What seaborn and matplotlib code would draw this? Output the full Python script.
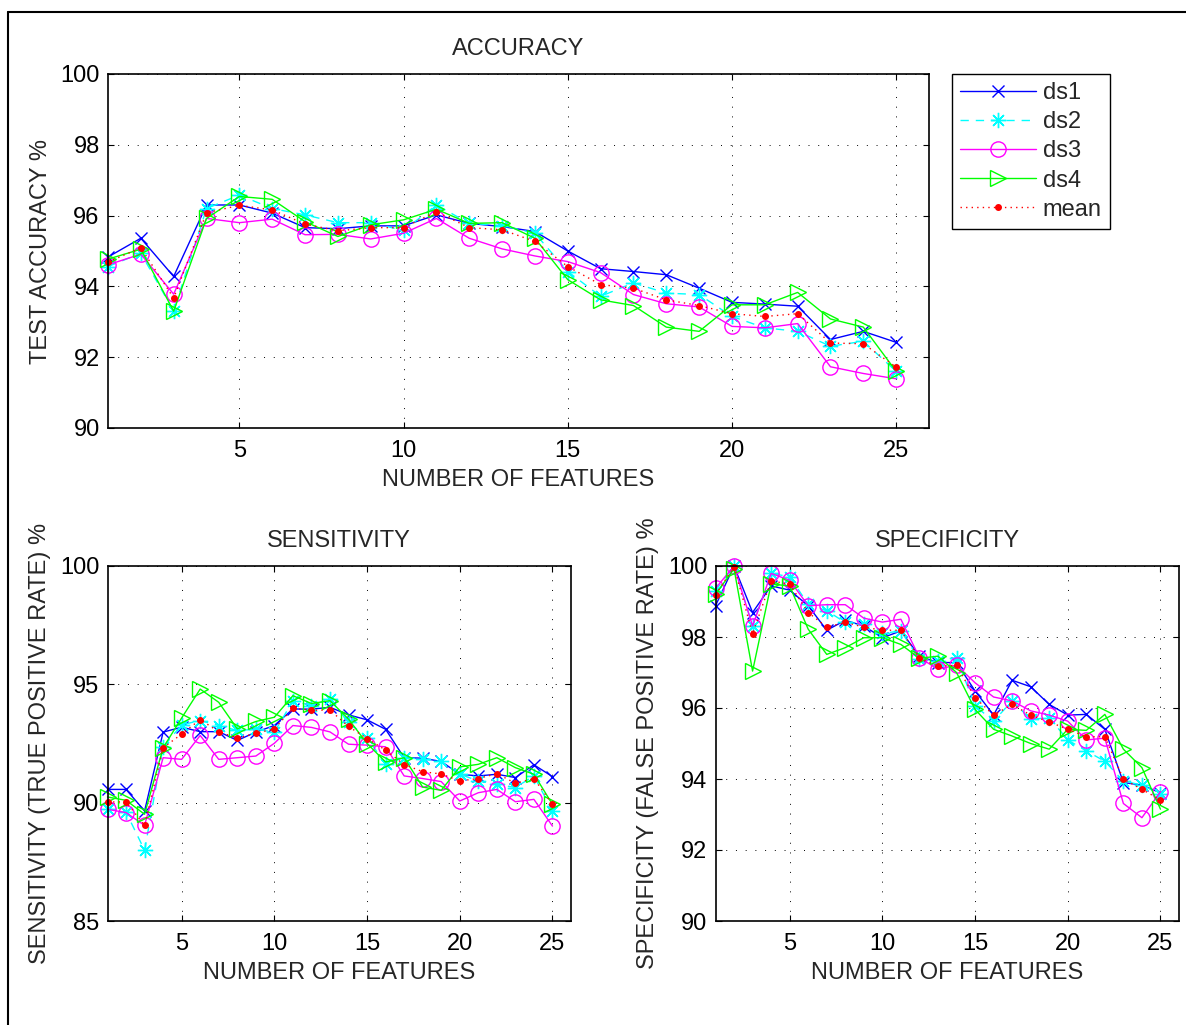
import numpy as np
import pandas as pd
import matplotlib
matplotlib.use("Agg")
import matplotlib.pyplot as plt
from matplotlib.lines import Line2D
import seaborn as sns

# ---- data -------------------------------------------------------------
features = list(range(1, 26))

acc_ds1 = [94.83, 95.36, 94.28, 96.30, 96.30, 96.07, 95.66, 95.63, 95.71, 95.71, 96.02, 95.78, 95.69,
           95.55, 95.00, 94.50, 94.42, 94.33, 93.95, 93.55, 93.50, 93.44, 92.50, 92.73, 92.42]
acc_ds2 = [94.56, 94.94, 93.30, 96.20, 96.58, 96.20, 96.02, 95.80, 95.80, 95.58, 96.30, 95.78, 95.72,
           95.50, 94.42, 93.72, 94.10, 93.81, 93.77, 93.15, 92.83, 92.73, 92.31, 92.45, 91.60]
acc_ds3 = [94.61, 94.91, 93.78, 95.92, 95.80, 95.90, 95.46, 95.47, 95.34, 95.50, 95.92, 95.36, 95.06,
           94.86, 94.70, 94.39, 93.77, 93.51, 93.42, 92.87, 92.83, 92.95, 91.73, 91.54, 91.39]
acc_ds4 = [94.77, 95.05, 93.30, 95.92, 96.54, 96.46, 95.83, 95.41, 95.74, 95.88, 96.18, 95.78, 95.80,
           95.36, 94.19, 93.62, 93.46, 92.85, 92.73, 93.48, 93.48, 93.83, 93.08, 92.85, 91.60]
acc_mean = [94.69, 95.09, 93.67, 96.08, 96.29, 96.16, 95.76, 95.57, 95.66, 95.66, 96.11, 95.66, 95.60,
            95.27, 94.56, 94.05, 93.95, 93.62, 93.46, 93.23, 93.15, 93.23, 92.40, 92.38, 91.72]

sens_ds1 = [90.56, 90.56, 89.65, 92.98, 93.19, 93.00, 93.00, 92.63, 92.98, 93.26, 93.96, 93.95, 94.03,
            93.71, 93.50, 93.10, 91.90, 91.88, 91.74, 91.20, 91.13, 91.20, 91.06, 91.60, 91.10]
sens_ds2 = [89.75, 89.60, 87.99, 92.35, 93.29, 93.47, 93.26, 93.05, 93.10, 92.98, 94.30, 94.10, 94.38,
            93.39, 92.75, 91.62, 91.90, 91.84, 91.74, 91.20, 90.92, 90.78, 90.64, 91.13, 89.65]
sens_ds3 = [89.72, 89.58, 89.04, 91.90, 91.83, 92.84, 91.83, 91.90, 91.97, 92.51, 93.26, 93.18, 92.99,
            92.47, 92.43, 92.36, 91.13, 91.02, 90.89, 90.07, 90.42, 90.56, 90.04, 90.14, 89.01]
sens_ds4 = [90.24, 90.10, 89.51, 92.32, 93.58, 94.80, 94.24, 93.12, 93.43, 93.61, 94.52, 94.19, 94.31,
            93.53, 92.50, 91.72, 91.90, 90.66, 90.52, 91.51, 91.62, 91.90, 91.48, 91.20, 89.93]
sens_mean = [90.03, 90.03, 89.04, 92.32, 92.90, 93.51, 93.00, 92.72, 92.93, 93.12, 93.99, 93.91, 93.91,
             93.22, 92.71, 92.22, 91.61, 91.31, 91.21, 90.92, 91.02, 91.23, 90.82, 91.02, 89.93]

spec_ds1 = [98.88, 100.0, 98.69, 99.44, 99.32, 98.88, 98.19, 98.47, 98.31, 97.98, 98.17, 97.46, 97.28,
            97.28, 96.48, 95.80, 96.78, 96.60, 96.10, 95.80, 95.82, 95.40, 93.90, 93.83, 93.61]
spec_ds2 = [99.30, 100.0, 98.31, 99.79, 99.70, 98.92, 98.74, 98.41, 98.36, 98.10, 98.17, 97.37, 97.32,
            97.42, 96.06, 95.63, 96.20, 95.68, 95.73, 95.10, 94.79, 94.50, 93.94, 93.83, 93.57]
spec_ds3 = [99.37, 100.0, 98.31, 99.79, 99.60, 98.88, 98.91, 98.91, 98.53, 98.42, 98.50, 97.42, 97.09,
            97.21, 96.71, 96.31, 96.20, 95.92, 95.80, 95.63, 95.10, 95.15, 93.31, 92.91, 93.64]
spec_ds4 = [99.20, 99.92, 97.04, 99.49, 99.44, 98.22, 97.51, 97.70, 97.98, 97.98, 97.79, 97.40, 97.46,
            97.00, 95.96, 95.40, 95.21, 95.00, 94.84, 95.40, 95.37, 95.82, 94.84, 94.32, 93.15]
spec_mean = [99.19, 99.98, 98.09, 99.58, 99.49, 98.69, 98.28, 98.41, 98.28, 98.19, 98.19, 97.40, 97.18,
             97.20, 96.29, 95.80, 96.10, 95.80, 95.61, 95.40, 95.19, 95.19, 94.00, 93.71, 93.41]

series_names = ["ds1", "ds2", "ds3", "ds4", "mean"]
x_ticks = [5, 10, 15, 20, 25]

# ---- styling ------------------------------------------------------------
sns.set_style("white")
plt.rcParams["font.family"] = ["Liberation Sans", "DejaVu Sans"]
plt.rcParams["font.size"] = 17
plt.rcParams["legend.numpoints"] = 1

styles = {
    "ds1": dict(color=(0, 0, 1), marker="x", linestyle="-", markersize=8, markerfacecolor="none"),
    "ds2": dict(color=(0, 1, 1), marker=(8, 2, 0), linestyle=(0, (6, 5)), markersize=11,
                markerfacecolor="none"),
    "ds3": dict(color=(1, 0, 1), marker="o", linestyle="-", markersize=11, markerfacecolor="none"),
    "ds4": dict(color=(0, 1, 0), marker=">", linestyle="-", markersize=11, markerfacecolor="none"),
    "mean": dict(color=(1, 0, 0), marker="o", linestyle=(0, (1, 3)), markersize=4,
                 markerfacecolor=(1, 0, 0)),
}

W, H = 1186, 1025
fig = plt.figure(figsize=(W / 100, H / 100), dpi=100)


def px_axes(left, top, right, bottom):
    return fig.add_axes([left / W, 1 - bottom / H, (right - left) / W, (bottom - top) / H])


ax_acc = px_axes(108, 74, 929, 428)
ax_sen = px_axes(107.5, 566, 571, 921)
ax_spe = px_axes(715.5, 566, 1179, 921)

panels = [
    (ax_acc, [acc_ds1, acc_ds2, acc_ds3, acc_ds4, acc_mean], "ACCURACY", "TEST ACCURACY %",
     (90, 100), np.arange(90, 101, 2)),
    (ax_sen, [sens_ds1, sens_ds2, sens_ds3, sens_ds4, sens_mean], "SENSITIVITY",
     "SENSITIVITY (TRUE POSITIVE RATE) %", (85, 100), np.arange(85, 101, 5)),
    (ax_spe, [spec_ds1, spec_ds2, spec_ds3, spec_ds4, spec_mean], "SPECIFICITY",
     "SPECIFICITY (FALSE POSITIVE RATE) %", (90, 100), np.arange(90, 101, 2)),
]

for ax, values, title, ylabel, ylim, yticks in panels:
    for name, vals in zip(series_names, values):
        st = dict(styles[name])
        col = st.pop("color")
        sns.lineplot(x=features, y=vals, ax=ax, color=col, linewidth=1.0,
                     markeredgecolor=col, markeredgewidth=1.0, label=name,
                     clip_on=False, **st)
    leg = ax.get_legend()
    if leg is not None:
        leg.remove()
    ax.set_xlim(1, 26)
    ax.set_ylim(*ylim)
    ax.set_xticks(x_ticks)
    ax.set_yticks(yticks)
    ax.grid(True, color="black", linestyle=(0, (1, 9)), linewidth=0.7)
    ax.set_axisbelow(True)
    for sp in ax.spines.values():
        sp.set_visible(True)
        sp.set_color("black")
        sp.set_linewidth(1.2)
    ax.tick_params(direction="in", length=4.5, width=0.8, top=True, right=True,
                   bottom=True, left=True, labelsize=17, colors="black")
    ax.tick_params(axis="x", pad=9)
    ax.tick_params(axis="y", pad=6)
    ax.set_title(title, fontsize=17, pad=14)
    ax.set_xlabel("NUMBER OF FEATURES", fontsize=17, labelpad=5)
    ax.set_ylabel(ylabel, fontsize=17, labelpad=6)

handles, labels = ax_acc.get_legend_handles_labels()
fig.legend(handles, labels, loc="upper left", bbox_to_anchor=(952 / W, 1 - 74 / H),
           borderaxespad=0, frameon=True, fancybox=False, edgecolor="black",
           fontsize=17, handlelength=3.2, handletextpad=0.3, labelspacing=0.3,
           borderpad=0.35, framealpha=1)
fig.legends[0].get_frame().set_linewidth(1.0)

# outer frame of the figure
fx, fy = 8 / W, 1 - 12 / H
fig.add_artist(Line2D([fx, fx], [0, fy], transform=fig.transFigure, color="black", linewidth=1.5))
fig.add_artist(Line2D([fx, 1], [fy, fy], transform=fig.transFigure, color="black", linewidth=1.5))

fig.savefig("out.png", dpi=100, facecolor="white")
